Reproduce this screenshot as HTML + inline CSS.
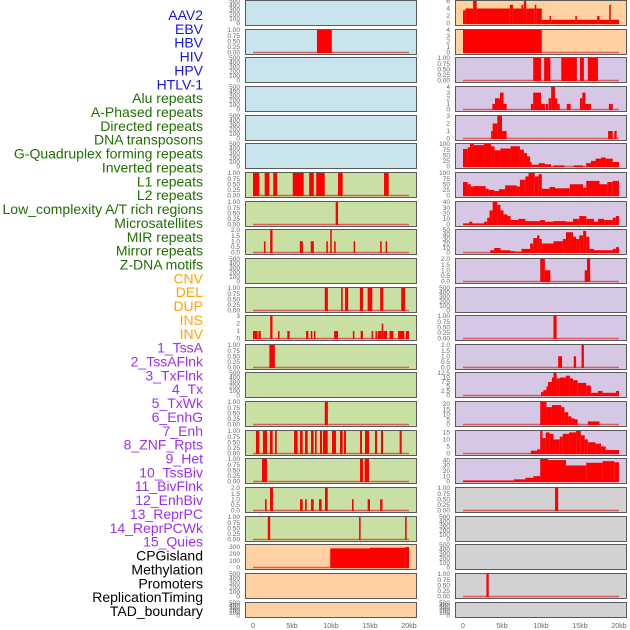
<!DOCTYPE html>
<html><head><meta charset="utf-8"><style>
html,body{margin:0;padding:0;background:#fff;}
svg{display:block;font-family:"Liberation Sans",sans-serif;}
</style></head><body>
<svg id="chart" width="630" height="630" viewBox="0 0 630 630" xmlns="http://www.w3.org/2000/svg"></svg>
<script>
const trackLabels=["AAV2","EBV","HBV","HIV","HPV","HTLV-1","Alu repeats","A-Phased repeats","Directed repeats","DNA transposons","G-Quadruplex forming repeats","Inverted repeats","L1 repeats","L2 repeats","Low_complexity A/T rich regions","Microsatellites","MIR repeats","Mirror repeats","Z-DNA motifs","CNV","DEL","DUP","INS","INV","1_TssA","2_TssAFlnk","3_TxFlnk","4_Tx","5_TxWk","6_EnhG","7_Enh","8_ZNF_Rpts","9_Het","10_TssBiv","11_BivFlnk","12_EnhBiv","13_ReprPC","14_ReprPCWk","15_Quies","CPGisland","Methylation","Promoters","ReplicationTiming","TAD_boundary"];
const labelGroups=[6,13,5,15,5];
const groupColors=["#1515e6","#1e7000","#ffa500","#9b30f0","#000000"];
const xTicks=[0,5,10,15,20];
const xTickLabels=["0","5kb","10kb","15kb","20kb"];
const T500=[0,100,200,300,400,500], T1=[0,0.25,0.5,0.75,1], T2=[0,0.5,1,1.5,2];
const leftBg=["b","b","b","b","b","b","g","g","g","g","g","g","g","g","g","g","g","g","g","o","o","o"];
const leftTicks=[T500,T1,T500,T500,T500,T500,T1,T1,T2,T500,T1,[0,1,2,3],T1,T500,T1,T1,T1,T2,T1,[0,100,200,300],T500,T500];
const leftYmax=[500,1,500,500,500,500,1,1,2,500,1,3,1,500,1,1,1,2,1,330,500,500];
const leftSegs=[
[],
[[8.2,10.1,1]],
[],[],[],[],
[[0,0.8,1],[1.5,2.1,1],[2.6,3.1,1],[5.1,6.5,1],[7.2,7.8,1],[8.1,9.2,1],[10.9,11.5,1],[16.8,17.4,1]],
[[10.6,10.9,1]],
[[1.4,1.6,1],[2.2,2.5,2],[6.0,6.4,1],[7.4,7.8,1],[9.4,9.6,1],[9.9,10.1,2],[10.4,10.6,1],[12.9,13.1,1],[16.3,16.5,1],[17.0,17.2,1]],
[],
[[9.2,9.6,1],[11.3,11.5,1],[11.8,12.2,1],[13.7,14.1,1],[14.7,15.3,1],[16.3,16.7,1],[19.0,19.5,1]],
[[0,0.6,1],[0.7,1.0,1],[2.2,2.5,3],[3.2,3.4,1],[4.4,4.7,1],[6.8,7.1,1],[7.4,7.6,1],[7.8,8.0,1],[10.4,10.9,1],[12.8,13.0,1],[13.8,14.1,1],[15.2,15.4,1],[15.7,15.9,1],[16.0,16.5,1],[16.5,16.7,2],[16.7,17.2,1],[17.5,18.0,1],[18.6,19.4,1],[19.6,20,1]],
[[2.1,2.8,1]],
[],
[[9.2,9.6,1]],
[[0.38,0.81,1],[1.28,1.8,1],[2.18,2.52,1],[2.82,3.04,1],[5.26,5.73,1],[6.03,6.37,1],[6.67,7.01,1],[7.44,7.78,1],[7.95,8.16,1],[8.59,8.85,1],[8.97,9.58,1],[10.13,10.64,1],[11.15,11.5,1],[11.67,11.92,1],[13.72,13.97,1],[14.36,14.87,1],[15.64,15.9,1],[16.41,16.67,1],[18.8,19.06,1]],
[[1.15,1.8,1],[13.72,14.1,1],[14.3,14.87,1]],
[[1.54,1.75,1],[2.18,2.56,2],[6.03,6.37,1],[6.67,6.88,1],[7.44,7.78,1],[8.46,8.8,1],[9.23,9.58,2],[12.69,12.9,1],[14.7,15.0,1],[16.3,16.6,1]],
[[1.9,2.2,1],[13.6,13.8,1],[19.5,19.7,1]],
[[9.9,15,280],[15,19.5,290],[19.5,20,300]],
[],[]
];
const rightBg=["o","o","p","p","p","p","p","p","p","p","p","p","p","p","p","p","p","y","y","y","y","y"];
const rightTicks=[[0,2,4,6],[0,1,2,3,4],T1,[0,1,2,3,4],[0,1,2,3],[0,25,50,75,100],[0,25,50,75,100],[0,10,20,30,40],[0,10,20,30,40,50],T2,T500,T1,T2,[0,2.5,5,7.5,10,12.5],[0,5,10,15,20],[0,5,10,15],[0,10,20,30,40],T1,T500,T500,T1,T500];
const rightYmax=[6,4,1,4,3,100,100,40,50,2,500,1,2,12.5,22,16,42,1,500,500,1,500];
const rightSegs=[
[[0,0.3,3.5],[0.3,1.3,4],[1.3,1.75,6],[1.75,6.0,4],[6.0,6.4,5],[6.4,7.5,4],[7.5,7.7,5],[7.7,7.8,4],[7.8,8.1,6],[8.1,9.2,4],[9.2,9.4,5],[9.4,10.1,4],[10.1,11.1,1],[11.1,11.3,2],[11.3,14.4,1],[14.4,14.6,2],[14.6,17.2,1],[17.2,17.5,2],[17.5,18.75,1],[18.75,18.95,5],[18.95,20,1]],
[[0,10.1,4]],
[[9.0,10.0,1],[10.4,11.2,1],[12.6,14.6,1],[15.0,15.5,1],[16.0,17.3,1]],
[[3.76,4.1,1],[4.1,4.74,2],[4.74,5.2,3],[5.2,5.6,1],[8.7,9.0,1],[9.0,10.0,3],[10.0,10.5,1],[10.6,10.9,1],[10.97,11.3,2],[11.3,11.8,4],[11.8,12.1,2],[12.1,12.4,1],[13.3,13.8,1],[15.0,15.3,2],[15.3,15.7,3],[15.7,16.4,1],[18.7,19.2,1]],
[[3.6,3.8,1],[3.8,4.4,2],[4.4,5.0,3],[5.0,5.6,1],[18.6,19.2,1],[19.4,19.7,1]],
[[0,0.6,78],[0.6,0.9,85],[0.9,1.4,100],[1.4,2.7,95],[2.7,3.6,100],[3.6,4.05,90],[4.05,4.8,72],[4.8,6.1,80],[6.1,7.3,90],[7.3,7.8,75],[7.8,8.2,60],[8.2,8.6,45],[8.6,8.8,20],[8.8,9.7,8],[9.7,10.5,15],[10.5,11.3,10],[11.6,13.0,5],[14.2,15.4,5],[15.8,16.4,15],[16.4,17.0,25],[17.0,17.7,35],[17.7,18.3,40],[18.3,19.2,35],[19.2,20,20]],
[[0,0.6,60],[0.6,1.0,50],[1.0,1.4,40],[1.4,2.9,42],[2.9,3.3,30],[3.3,4.0,25],[4.0,4.6,20],[4.6,5.4,28],[5.4,6.9,45],[6.9,7.3,40],[7.3,8.0,70],[8.0,8.4,85],[8.4,9.2,100],[9.2,9.7,85],[9.7,10.1,95],[10.1,11.1,30],[11.1,11.8,38],[11.8,13.7,32],[13.7,15.4,50],[15.4,15.8,35],[15.8,17.5,65],[17.5,18.5,50],[18.5,19.2,60],[19.2,20,65]],
[[0,0.8,2],[0.8,1.2,5],[1.2,2.7,2],[2.7,3.1,5],[3.1,3.4,12],[3.4,3.8,25],[3.8,4.4,40],[4.4,4.8,35],[4.8,5.2,25],[5.2,5.7,18],[5.7,6.1,15],[6.1,7.1,8],[7.1,8.0,10],[8.0,9.9,6],[9.9,10.5,8],[10.5,11.6,5],[11.6,13.2,6],[13.2,14.1,5],[14.1,14.9,10],[14.9,15.8,15],[15.8,16.8,10],[16.8,17.3,5],[17.3,18.1,10],[18.1,19.2,8],[19.2,19.6,12],[19.6,20,15]],
[[3.5,4.0,5],[4.0,4.8,10],[4.8,6.1,5],[6.1,6.7,3],[6.7,7.5,2],[7.5,8.6,8],[8.6,9.0,20],[9.0,9.5,32],[9.5,9.8,38],[9.8,10.1,30],[10.1,11.6,20],[11.6,12.8,25],[12.8,13.2,30],[13.2,14.1,45],[14.1,14.5,35],[14.5,14.9,30],[14.9,15.4,38],[15.4,15.8,48],[15.8,16.2,35],[16.2,16.8,8],[16.8,19.2,5],[19.2,19.6,8],[19.6,20,12]],
[[9.9,10.5,2],[10.5,11.2,1],[15.6,15.9,1],[15.9,16.3,2]],
[],
[[11.6,12.0,1]],
[[12.2,12.7,1],[14.2,14.5,1],[15.2,15.5,2]],
[[10.0,10.3,2],[10.3,10.7,3],[10.7,10.9,5],[10.9,11.4,7.5],[11.4,11.6,10],[11.6,12.0,12.5],[12.0,12.4,9.5],[12.4,13.2,10],[13.2,13.7,11],[13.7,14.1,9.5],[14.1,14.7,8.5],[14.7,15.8,7],[15.8,16.4,5.5],[16.4,17.3,1.5],[17.3,17.9,2.5],[17.9,19.6,1.5],[19.6,20,2.5]],
[[9.9,10.7,22],[10.7,11.4,17],[11.4,12.6,19],[12.6,13.0,17],[13.0,13.5,12],[13.5,13.9,8],[13.9,14.3,6],[14.3,14.7,5],[16.0,17.5,3]],
[[8.7,9.5,2],[9.5,9.9,3],[9.9,10.2,16],[10.2,10.6,11],[10.6,11.1,15],[11.1,11.6,14],[11.6,12.4,10],[12.4,12.8,12],[12.8,13.6,14],[13.6,14.5,15],[14.5,15.1,16],[15.1,15.6,13],[15.6,16.0,10],[16.0,17.0,8],[17.0,17.7,7],[17.7,18.3,5],[18.3,20,2.5]],
[[0,6.5,2],[6.5,8.0,4],[8.0,9.0,7],[9.0,9.9,10],[9.9,10.9,42],[10.9,13.2,40],[13.2,15.8,30],[15.8,17.9,35],[17.9,19.4,38],[19.4,20,36]],
[[11.8,12.2,1]],
[],[],
[[3.0,3.3,1]],
[]
];

const NS="http://www.w3.org/2000/svg";
const svg=document.getElementById('chart');
const bgColors={b:"#c8e4ec",g:"#c8e0a4",o:"#ffd1a0",p:"#d6c8e4",y:"#d2d2d2"};
function mk(tag,attrs,parent){const e=document.createElementNS(NS,tag);for(const k in attrs)e.setAttribute(k,attrs[k]);(parent||svg).appendChild(e);return e;}
function rowTop(i){return Math.round(i*28.65);}
function rowH(i){return i===21?15:25;}

// labels
let gi=0,cnt=0;
trackLabels.forEach((t,i)=>{
  while(cnt>=labelGroups[gi]){cnt=0;gi++;}
  cnt++;
  const e=mk('text',{x:203,y:(20+i*13.86).toFixed(1),'text-anchor':'end','font-size':14,fill:groupColors[gi]});
  e.textContent=t;
  
  
});

function drawCol(px,x0,bgs,ticks,ymaxes,segs,colName){
  const g=mk('g',{});
  
  
  const xs=kb=>x0+kb*7.8;
  for(let i=0;i<22;i++){
    const top=rowTop(i),h=rowH(i);
    const y0=top+h-1.5,y1=top+1;
    const ys=v=>y0-(v/ymaxes[i])*(y0-y1);
    const r=mk('rect',{x:px+0.5,y:top+0.5,width:171,height:h,fill:bgColors[bgs[i]],stroke:"#5a5a5a","stroke-width":1},g);
    
    
    ticks[i].forEach(tv=>{
      const tt=mk('text',{x:px-5,y:(ys(tv)+2.2).toFixed(1),'text-anchor':'end','font-size':6.5,fill:"#666"},g);
      tt.textContent=String(tv%1===0?tv:tv.toFixed(tv*100%10===0?1:2));
      if(ticks[i]===T1) tt.textContent=tv.toFixed(2);
      if(ticks[i]===T2) tt.textContent=tv.toFixed(1);
      
      
    });
    if(segs[i].length){
      const bl=mk('line',{x1:xs(0),x2:xs(20),y1:y0,y2:y0,stroke:"#d84040","stroke-width":1.5,opacity:0.8},g);
      
      
    }
    segs[i].forEach(s=>{
      const b=mk('rect',{x:xs(s[0]).toFixed(2),y:ys(s[2]).toFixed(2),width:Math.max(1,xs(s[1])-xs(s[0])).toFixed(2),height:(y0-ys(s[2])+0.5).toFixed(2),fill:"#ff0000"},g);
      
      
    });
  }
  xTicks.forEach((v,k)=>{
    const t=mk('text',{x:xs(v),y:628,'text-anchor':'middle','font-size':7,fill:"#666"},g);
    t.textContent=xTickLabels[k];
    
    
  });
}
drawCol(245,253,leftBg,leftTicks,leftYmax,leftSegs,'left-track-column');
drawCol(455,463,rightBg,rightTicks,rightYmax,rightSegs,'right-track-column');
</script>
</body></html>
